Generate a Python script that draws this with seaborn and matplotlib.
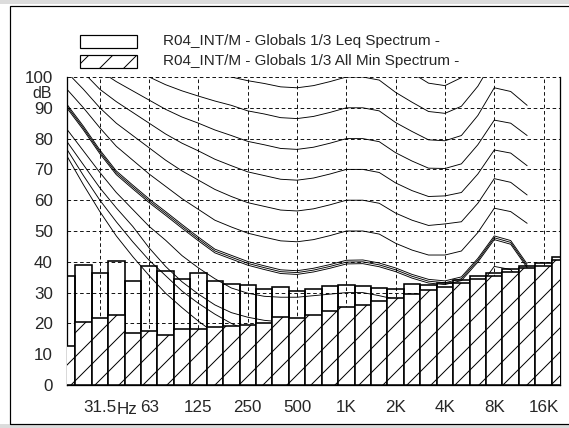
import numpy as np
import pandas as pd
import seaborn as sns
import matplotlib.pyplot as plt
from matplotlib.patches import Rectangle

# 1/3 octave bands
bands = ["20", "25", "31.5", "40", "50", "63", "80", "100", "125", "160", "200",
         "250", "315", "400", "500", "630", "800", "1K", "1.25K", "1.6K", "2K",
         "2.5K", "3.15K", "4K", "5K", "6.3K", "8K", "10K", "12.5K", "16K", "20K"]

leq = [35.4, 38.9, 36.3, 40.3, 33.8, 38.6, 37.0, 34.4, 36.5, 33.9, 32.8,
       32.5, 31.3, 31.9, 30.5, 31.1, 32.1, 32.4, 32.1, 31.6, 31.3,
       32.7, 32.4, 33.2, 34.1, 35.4, 36.3, 37.6, 38.6, 39.5, 41.5]

all_min = [12.7, 20.6, 21.6, 22.6, 16.8, 17.6, 16.3, 18.1, 18.3, 18.7, 19.3,
           19.5, 20.0, 22.0, 21.9, 22.8, 24.1, 25.4, 26.0, 27.3, 28.4,
           29.4, 30.8, 31.7, 33.0, 34.5, 35.4, 36.8, 37.9, 38.7, 40.6]

tick_bands = ["31.5", "63", "125", "250", "500", "1K", "2K", "4K", "8K", "16K"]

# equal loudness contours, 20 Hz .. 12.5 kHz
maf = [74.3, 65.0, 56.3, 48.4, 41.7, 35.5, 29.8, 25.1, 20.7, 16.8, 13.8, 11.2, 8.9, 7.2, 6.0,
       5.0, 4.4, 4.2, 3.7, 2.6, 1.0, -1.2, -3.6, -3.9, -1.1, 6.6, 15.3, 16.4, 11.6]
ph10 = [76.5, 68, 60, 53, 46.5, 40.5, 35.5, 30.5, 26.5, 23, 20, 17.5, 15.5, 14, 13,
        12.2, 11.5, 10, 10, 9, 7.5, 5.5, 3.5, 3, 5, 11.5, 19.5, 20, 15]
ph20 = [79, 71.5, 64, 57.5, 51.5, 44.5, 38.5, 33.5, 29.5, 26, 23.5, 22, 21, 20.5, 20.3,
        20.2, 20.1, 20, 20, 19, 17.5, 15.5, 13.5, 13, 15, 21.5, 29.5, 29, 22.5]
ph30 = [83, 76, 69, 62.5, 57, 51.5, 47, 42, 38, 34.5, 31.5, 29.8, 28.8, 28.5, 28.5,
        29, 29.5, 30, 30, 29, 27.8, 25.8, 24, 23.5, 25, 31.3, 38.5, 37.5, 30]
ph40 = [90.5, 83.4, 75.7, 68.9, 64.3, 59.8, 55.7, 51.5, 47.4, 43.5, 41.5, 39.5, 38.1, 36.8, 36.5,
        37.3, 38.5, 39.9, 40.0, 39.0, 37.4, 35.3, 33.7, 33.2, 34.5, 40.5, 47.8, 46.3, 38.7]
ph50 = [96, 90, 83.5, 77.5, 73, 68.5, 64.5, 60.5, 57, 53.5, 51.3, 49.3, 48, 46.8, 46.5,
        47.2, 48.5, 50, 50, 49, 46.0, 43.8, 42.2, 42.2, 43.5, 49.5, 57.4, 56.3, 52.5]
ph60 = [101.5, 96, 90, 85, 81, 77, 73, 69.5, 66.5, 63.5, 61.2, 59.2, 58, 56.8, 56.5,
        57.2, 58.5, 60, 60, 59, 55.8, 53.5, 51.8, 52.3, 53, 59, 67, 65.8, 61.7]
ph70 = [107, 101.5, 96, 92, 88.5, 85, 81.5, 78.5, 76, 73.3, 71.2, 69.2, 68, 66.8, 66.5,
        67.2, 68.5, 70, 70, 69, 65.6, 63.1, 61.2, 61.4, 62.5, 68.5, 76.3, 75.3, 71.2]
ph80 = [112, 107, 102, 98.5, 95.5, 92.5, 89.5, 87, 85, 82.8, 81, 79.1, 78, 76.8, 76.5,
        77.2, 78.5, 80, 80, 79, 75.4, 72.7, 70.4, 70.3, 71.8, 78, 86, 85, 81]
ph90 = [117, 112, 108, 105, 102.5, 100, 97.5, 95.5, 93.8, 92.2, 90.8, 89, 88, 86.8, 86.5,
        87.2, 88.5, 90, 90, 89, 85.2, 82.3, 79.6, 79.3, 81, 87.5, 96.5, 95.3, 90.8]
ph100 = [122, 118, 114, 111, 109, 107.5, 105.5, 104, 102.5, 101, 100, 98.8, 97.9, 96.8, 96.5,
         97.2, 98.5, 100, 100, 99, 95, 91.8, 88.8, 88.2, 90.5, 97, 106, 105, 100]
ph110 = [127, 124, 120, 117, 115, 113, 111, 110, 109, 108, 107, 106, 105, 104, 104,
         105, 107, 110, 110, 109, 104.8, 101.3, 98, 97.2, 99.8, 106.5, 116, 115, 110]

W, H = 569, 428
fig = plt.figure(figsize=(W / 72, H / 72), dpi=72)
sns.set_style("white")
plt.rcParams["font.family"] = ["Liberation Sans", "DejaVu Sans"]
plt.rcParams["hatch.color"] = "black"
plt.rcParams["hatch.linewidth"] = 1.0

ax = fig.add_axes([67 / W, 1 - 385 / H, (560 - 67) / W, (385 - 77) / H])

idx = list(range(len(bands)))
df = pd.DataFrame({"band": idx, "leq": leq, "min": all_min})

sns.barplot(data=df, x="band", y="leq", fill=False, color="black", width=1,
            linewidth=1.6, saturation=1, ax=ax, zorder=2)

cidx = list(range(29))
for curve in [maf, ph10, ph20, ph30, ph50, ph60, ph70, ph80, ph90, ph100, ph110]:
    sns.lineplot(x=cidx, y=curve, color="black", lw=0.9, ax=ax, zorder=2.5)
for off in [-0.6, 0.0, 0.6]:
    sns.lineplot(x=cidx, y=[v + off for v in ph40], color="black", lw=0.9, ax=ax, zorder=2.5)

sns.barplot(data=df, x="band", y="min", color="white", edgecolor="black", width=1,
            linewidth=1.6, saturation=1, hatch="/", ax=ax, zorder=3)

ax.set_xlim(0, 30)
ax.set_ylim(0, 100)
ax.set_xticks([bands.index(b) for b in tick_bands])
ax.set_xticklabels(tick_bands)
ax.set_yticks(range(0, 101, 10))
ax.set_xlabel("")
ax.set_ylabel("")
ax.xaxis.grid(True, color="black", ls=(0, (4, 3)), lw=0.9)
ax.yaxis.grid(True, color="black", ls=(0, (4, 3)), lw=0.9)
ax.set_axisbelow(True)
ax.tick_params(axis="both", length=13, width=1.2, color="#444444", labelsize=17,
               direction="out", pad=1)
ax.tick_params(axis="x", length=12, pad=3)
for s in ["left", "right", "bottom"]:
    ax.spines[s].set_visible(True)
    ax.spines[s].set_color("black")
    ax.spines[s].set_linewidth(1.3)
ax.spines["top"].set_visible(False)


def fx(x):
    return x / W


def fy(y):
    return 1 - y / H


fig.text(fx(116.5), fy(409), "Hz", fontsize=17, ha="left", va="center")
fig.text(fx(52), fy(94), "dB", fontsize=16, ha="right", va="center")

# legend
fig.add_artist(Rectangle((fx(80), fy(48)), (137 - 80) / W, 13 / H, transform=fig.transFigure,
                         facecolor="white", edgecolor="black", lw=1.2))
fig.add_artist(Rectangle((fx(80), fy(68)), (137 - 80) / W, 13 / H, transform=fig.transFigure,
                         facecolor="white", edgecolor="black", lw=1.2, hatch="/"))
fig.text(fx(163), fy(41), "R04_INT/M - Globals 1/3 Leq Spectrum -", fontsize=15.2,
         ha="left", va="center")
fig.text(fx(163), fy(61), "R04_INT/M - Globals 1/3 All Min Spectrum -", fontsize=15.2,
         ha="left", va="center")

# window frame
fig.add_artist(Rectangle((0, fy(4)), 1, 4 / H, transform=fig.transFigure,
                         facecolor="#dcdcdc", edgecolor="none"))
fig.add_artist(Rectangle((0, 0), 1, 4 / H, transform=fig.transFigure,
                         facecolor="#dcdcdc", edgecolor="none"))
fig.add_artist(Rectangle((fx(9.5), fy(423.5)), 1, (423.5 - 5.5) / H, transform=fig.transFigure,
                         facecolor="none", edgecolor="black", lw=1.2))

fig.savefig("out.png", dpi=72)
